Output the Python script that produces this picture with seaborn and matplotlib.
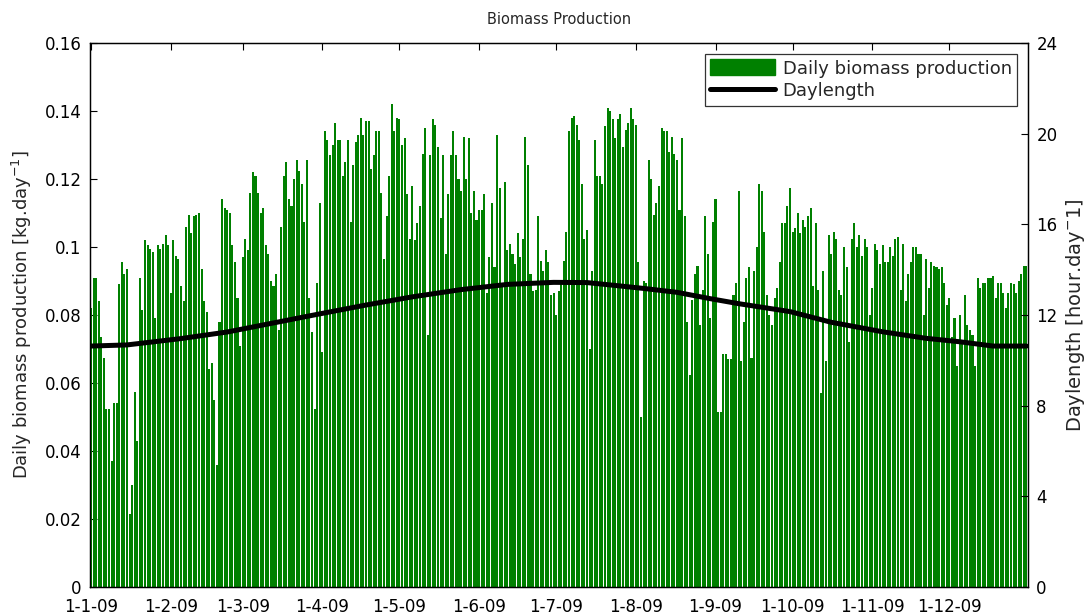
import numpy as np
import pandas as pd
import matplotlib
matplotlib.use("Agg")
import matplotlib.pyplot as plt
import seaborn as sns
from matplotlib.patches import Patch
from matplotlib.lines import Line2D

# ---------------- data ----------------
bio_seg1 = [0.082, 0.091, 0.091, 0.084, 0.0735, 0.0675, 0.0525, 0.0525, 0.037, 0.054, 0.054, 0.089,
            0.0955, 0.092, 0.0935, 0.0215, 0.030, 0.0575, 0.043, 0.091, 0.0815, 0.102, 0.1005, 0.0995,
            0.0985, 0.079, 0.1005, 0.0995, 0.101, 0.1035, 0.1005, 0.0865, 0.102, 0.0975, 0.0965, 0.0885]
bio_seg2 = [0.084, 0.106, 0.1095, 0.104, 0.109, 0.1095, 0.110, 0.0935, 0.084, 0.081, 0.064, 0.066,
            0.055, 0.036, 0.078, 0.114, 0.1115, 0.111, 0.110, 0.1005, 0.0955, 0.085, 0.071, 0.097,
            0.1025, 0.099, 0.116, 0.122, 0.121, 0.116, 0.110, 0.1115, 0.1005, 0.098, 0.090]
bio_seg3 = [0.0885, 0.092, 0.0755, 0.106, 0.121, 0.125, 0.114, 0.112, 0.120, 0.1255, 0.1225, 0.1185,
            0.1075, 0.1255, 0.085, 0.075, 0.0525, 0.0895, 0.113, 0.069, 0.134, 0.1315, 0.127, 0.130,
            0.1365, 0.1315, 0.1315, 0.121, 0.125, 0.1315, 0.1075, 0.124, 0.131, 0.133, 0.138, 0.133]
bio_seg4 = [0.137, 0.137, 0.123, 0.127, 0.134, 0.134, 0.116, 0.0965, 0.109, 0.121, 0.142, 0.134,
            0.138, 0.1375, 0.130, 0.132, 0.1155, 0.1025, 0.118, 0.102, 0.107, 0.112, 0.1275, 0.135,
            0.074, 0.127, 0.1375, 0.136, 0.1295, 0.1085, 0.127, 0.098, 0.1155, 0.127, 0.134, 0.127]
bio_seg5 = [0.120, 0.1165, 0.1325, 0.120, 0.132, 0.110, 0.1165, 0.108, 0.111, 0.111, 0.1155, 0.0865,
            0.097, 0.113, 0.094, 0.133, 0.1175, 0.089, 0.119, 0.099, 0.101, 0.098, 0.095, 0.104,
            0.097, 0.1025, 0.1325, 0.124, 0.092, 0.087, 0.0875, 0.109, 0.096, 0.093, 0.099, 0.0955, 0.086]
bio_seg6 = [0.0865, 0.080, 0.087, 0.089, 0.096, 0.1045, 0.134, 0.138, 0.1385, 0.136, 0.1315, 0.1185,
            0.1025, 0.105, 0.070, 0.093, 0.1315, 0.121, 0.121, 0.1185, 0.1355, 0.141, 0.140, 0.1375,
            0.132, 0.1375, 0.139, 0.1295, 0.1345, 0.1365, 0.141, 0.1375, 0.136, 0.0955, 0.050, 0.090, 0.0895]
bio_seg7 = [0.1255, 0.120, 0.1095, 0.113, 0.118, 0.135, 0.134, 0.134, 0.128, 0.1325, 0.1275, 0.1255,
            0.111, 0.132, 0.109, 0.078, 0.0625, 0.0845, 0.092, 0.0945, 0.077, 0.0875, 0.109, 0.098,
            0.079, 0.1075, 0.114, 0.0515, 0.0515, 0.0685, 0.0685, 0.067, 0.067, 0.086, 0.0895, 0.1165]
bio_seg8 = [0.0665, 0.078, 0.091, 0.094, 0.0675, 0.093, 0.100, 0.1185, 0.1165, 0.1045, 0.086, 0.080,
            0.077, 0.085, 0.088, 0.0955, 0.107, 0.107, 0.112, 0.1175, 0.1045, 0.1055, 0.110, 0.104,
            0.108, 0.106, 0.109, 0.1115, 0.0885, 0.107, 0.0875, 0.057, 0.093, 0.0665, 0.1035, 0.098, 0.1045]
bio_seg9 = [0.1025, 0.0875, 0.086, 0.100, 0.094, 0.072, 0.1025, 0.107, 0.100, 0.1035, 0.0975, 0.1025,
            0.100, 0.080, 0.088, 0.101, 0.099, 0.095, 0.1005, 0.0955, 0.0955, 0.100, 0.0975, 0.1025,
            0.103, 0.0875, 0.101, 0.084, 0.092, 0.0955, 0.100, 0.100, 0.098, 0.098, 0.080, 0.0965, 0.088]
bio_seg10 = [0.0955, 0.0945, 0.094, 0.0935, 0.094, 0.0895, 0.083, 0.085, 0.0735, 0.079, 0.065, 0.080,
             0.0715, 0.086, 0.077, 0.0755, 0.074, 0.065, 0.091, 0.088, 0.0895, 0.0895, 0.091, 0.091,
             0.0915, 0.085, 0.0895, 0.0895, 0.0865, 0.082, 0.0865, 0.0895, 0.089, 0.0865, 0.090, 0.092,
             0.0945, 0.0945]

# daylength readings (hours) at day offsets from 1 Jan 2009
day_points = [0, 14, 35, 53, 71, 89, 107, 125, 144, 162, 180, 193, 206, 216, 228, 241, 252, 272,
              288, 308, 325, 338, 351, 364]
daylength_hours = [10.63, 10.68, 10.96, 11.25, 11.65, 12.05, 12.44, 12.80, 13.12, 13.35, 13.44, 13.43,
                   13.28, 13.16, 13.00, 12.72, 12.50, 12.15, 11.68, 11.26, 10.97, 10.82, 10.63, 10.63]

month_starts = [0, 31, 59, 90, 120, 151, 181, 212, 243, 273, 304, 334]
month_labels = ["1-1-09", "1-2-09", "1-3-09", "1-4-09", "1-5-09", "1-6-09",
                "1-7-09", "1-8-09", "1-9-09", "1-10-09", "1-11-09", "1-12-09"]
left_ticks = [0, 0.02, 0.04, 0.06, 0.08, 0.1, 0.12, 0.14, 0.16]
left_labels = ["0", "0.02", "0.04", "0.06", "0.08", "0.1", "0.12", "0.14", "0.16"]
right_ticks = [0, 4, 8, 12, 16, 20, 24]

biomass = (bio_seg1 + bio_seg2 + bio_seg3 + bio_seg4 + bio_seg5 + bio_seg6 + bio_seg7 +
           bio_seg8 + bio_seg9 + bio_seg10)
n = len(biomass)
df_bio = pd.DataFrame({"day": np.arange(n), "biomass": biomass})
df_day = pd.DataFrame({"day": day_points, "hours": daylength_hours})

# ---------------- style ----------------
sns.set_style("white")
plt.rcParams["font.family"] = ["DejaVu Sans"]
plt.rcParams["mathtext.default"] = "regular"
FS = 12
GREEN = "#008000"

fig = plt.figure(figsize=(10.86, 6.14), dpi=100)
ax = fig.add_axes([90 / 1086, 1 - 587 / 614, (1028 - 90) / 1086, (587 - 43) / 614])

sns.barplot(data=df_bio, x="day", y="biomass", color=GREEN, saturation=1, width=0.8,
            errorbar=None, linewidth=0, native_scale=True, ax=ax)
ax.set_xlim(-0.4, n - 0.4)
ax.set_ylim(0, 0.16)
ax.set_yticks(left_ticks)
ax.set_yticklabels(left_labels, fontsize=FS)
ax.set_xticks(month_starts)
ax.set_xticklabels(month_labels, fontsize=FS)
ax.set_xlabel("")
ax.set_ylabel("Daily biomass production [kg.day$^{-1}$]", fontsize=13)
ax.yaxis.set_label_coords(-0.060, 0.5)
ax.tick_params(axis="both", direction="in", length=5, width=0.8, colors="black",
               top=True, right=True, left=True, bottom=True)
ax.tick_params(axis="y", pad=6)
ax.tick_params(axis="x", pad=8)
ax.set_title("Biomass Production", fontsize=10.5, pad=14)
for s in ax.spines.values():
    s.set_color("black")
    s.set_linewidth(0.9)

ax2 = ax.twinx()
sns.lineplot(data=df_day, x="day", y="hours", color="black", linewidth=3.6, ax=ax2)
ax2.set_ylim(0, 24)
ax2.set_yticks(right_ticks)
ax2.set_yticklabels([str(t) for t in right_ticks], fontsize=FS)
ax2.set_ylabel("Daylength [hour.day$^{-}$1]", fontsize=14)
ax2.yaxis.set_label_coords(1.038, 0.5)
ax2.set_xlabel("")
ax2.tick_params(axis="y", direction="in", length=5, width=0.8, colors="black", pad=6)
for s in ax2.spines.values():
    s.set_color("black")
    s.set_linewidth(0.9)

handles = [Patch(facecolor=GREEN, edgecolor=GREEN),
           Line2D([0], [0], color="black", linewidth=3.6)]
leg = ax2.legend(handles, ["Daily biomass production", "Daylength"], loc="upper right",
                 fontsize=13, frameon=True, fancybox=False, edgecolor="black",
                 borderaxespad=0.6, handlelength=3.6, handleheight=1.0, borderpad=0.3,
                 labelspacing=0.25, handletextpad=0.4)
leg.get_frame().set_linewidth(0.9)

fig.savefig("out.png", dpi=100, facecolor="white")
